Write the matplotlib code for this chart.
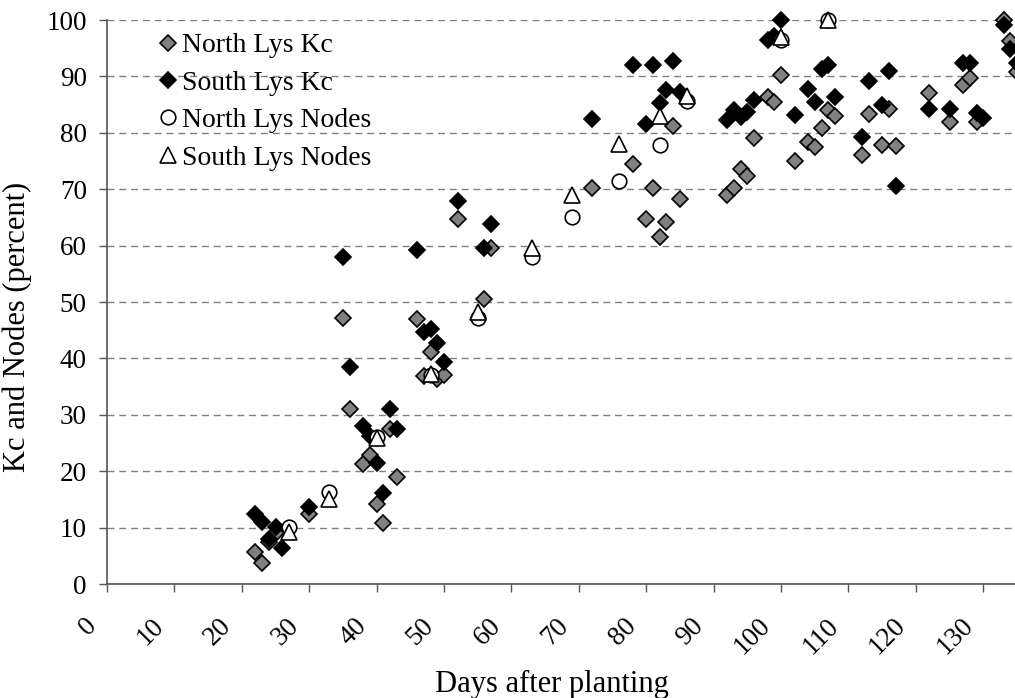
import matplotlib
matplotlib.use("Agg")
import matplotlib.pyplot as plt
from matplotlib.transforms import ScaledTranslation

plt.rcParams['font.family'] = ['Liberation Serif', 'DejaVu Serif']

# ---- data ----
north_kc_x = [22, 23, 24, 25, 30, 35, 36, 38, 39, 40, 41, 42, 43, 46, 47, 48, 49, 50,
              52, 56, 57, 72, 78, 80, 81, 82, 83, 84, 85, 92, 93, 94, 95, 96, 98, 99,
              100, 102, 104, 105, 106, 107, 108, 112, 113, 115, 116, 117, 122, 125,
              127, 128, 129, 133, 134, 135]
north_kc_y = [5.7, 3.8, 7.5, 9.0, 12.5, 47.1, 31.0, 21.3, 22.9, 14.2, 10.9, 27.5, 19.0,
              46.9, 36.8, 41.1, 36.4, 37.1, 64.8, 50.5, 59.6, 70.3, 74.5, 64.8, 70.2,
              61.6, 64.2, 81.2, 68.2, 69.0, 70.2, 73.5, 72.4, 79.0, 86.3, 85.5, 90.2,
              75.0, 78.4, 77.4, 80.8, 84.0, 83.0, 76.1, 83.4, 77.8, 84.3, 77.7, 87.0,
              82.0, 88.5, 89.8, 82.0, 100.0, 96.2, 90.8]

south_kc_x = [22, 23, 24, 25, 26, 30, 35, 36, 38, 39, 40, 41, 42, 43, 46, 47, 48, 49,
              50, 52, 56, 57, 72, 78, 80, 81, 82, 83, 84, 85, 92, 93, 94, 95, 96, 98,
              99, 100, 102, 104, 105, 106, 107, 108, 112, 113, 115, 116, 117, 122, 125,
              127, 128, 129, 130, 133, 134, 135]
south_kc_y = [12.5, 11.0, 8.0, 10.1, 6.3, 13.7, 58.0, 38.5, 28.1, 26.2, 21.4, 16.1,
              31.1, 27.5, 59.3, 44.7, 45.2, 42.8, 39.4, 67.9, 59.5, 63.9, 82.5, 92.1,
              81.5, 92.1, 85.2, 87.6, 92.7, 87.3, 82.3, 84.1, 82.8, 83.6, 85.8, 96.4,
              97.1, 100.0, 83.2, 87.8, 85.4, 91.4, 92.0, 86.3, 79.2, 89.2, 85.0, 90.9,
              70.6, 84.3, 84.3, 92.4, 92.4, 83.5, 82.7, 99.2, 94.8, 92.3]

north_nodes_x = [27, 33, 40, 48, 55, 63, 69, 76, 82, 86, 100, 107]
north_nodes_y = [10.1, 16.4, 26.0, 37.0, 47.1, 57.9, 65.0, 71.5, 77.8, 85.7, 96.5, 100.0]

south_nodes_x = [27, 33, 40, 48, 55, 63, 69, 76, 82, 86, 100, 107]
south_nodes_y = [9.2, 15.0, 25.8, 37.2, 48.3, 59.5, 69.0, 78.0, 83.0, 86.5, 96.9, 100.0]

x_ticks = list(range(0, 131, 10))
y_ticks = list(range(0, 101, 10))

# ---- figure ----
W, H = 1015, 698
fig = plt.figure(figsize=(W / 100, H / 100), dpi=100)
ax = fig.add_axes([107 / W, 1 - 584 / H, (W - 107) / W, (584 - 20) / H])

FS_TICK = 19.5
FS_LEG = 20
FS_LAB = 22
AXC = '#555555'

ax.plot(north_kc_x, north_kc_y, linestyle='none', marker='D', ms=8.0,
        mfc='#808080', mec='black', mew=1.2, clip_on=False, zorder=3,
        label='North Lys Kc')
ax.plot(south_kc_x, south_kc_y, linestyle='none', marker='D', ms=8.0,
        mfc='black', mec='black', mew=1.2, clip_on=False, zorder=4,
        label='South Lys Kc')
ax.plot(north_nodes_x, north_nodes_y, linestyle='none', marker='o', ms=10.5,
        mfc='white', mec='black', mew=1.2, clip_on=False, zorder=5,
        label='North Lys Nodes')
ax.plot(south_nodes_x, south_nodes_y, linestyle='none', marker='^', ms=11,
        mfc='white', mec='black', mew=1.2, clip_on=False, zorder=6,
        label='South Lys Nodes')

ax.set_xlim(0, 134.7)
ax.set_ylim(0, 100)
ax.set_xticks(x_ticks)
ax.set_yticks(y_ticks)
ax.set_xticklabels([])
ax.set_yticklabels([str(t) for t in y_ticks], fontsize=FS_TICK)

# rotated x tick labels, anchored below-left of each tick
off = ScaledTranslation(-14 / 100, -38 / 100, fig.dpi_scale_trans)
for t in x_ticks:
    ax.text(t, 0, str(t), transform=ax.get_xaxis_transform() + off,
            rotation=45, rotation_mode='anchor', ha='right', va='center',
            fontsize=FS_TICK, clip_on=False)

ax.yaxis.grid(True, color='#808080', linestyle=(0, (5, 3.5)), linewidth=1.0)
ax.set_axisbelow(True)
for s in ['top', 'right']:
    ax.spines[s].set_visible(False)
for s in ['left', 'bottom']:
    ax.spines[s].set_color(AXC)
    ax.spines[s].set_linewidth(1.2)
ax.tick_params(axis='both', direction='out', length=5.5, width=1.0, color=AXC)
ax.tick_params(axis='y', pad=9)

ax.set_xlabel('Days after planting', fontsize=FS_LAB)
ax.xaxis.set_label_coords(0.49, -0.152)
ax.set_ylabel('Kc and Nodes (percent)', fontsize=FS_LAB)
ax.yaxis.set_label_coords(-0.083, 0.456)

ax.legend(loc='upper left', bbox_to_anchor=(158 / W, 1 - 33 / H),
          bbox_transform=fig.transFigure, frameon=False, fontsize=FS_LEG,
          handlelength=0.7, handletextpad=0.16, labelspacing=0.43,
          borderpad=0.0, borderaxespad=0.0)

fig.savefig('out.png', dpi=100)
